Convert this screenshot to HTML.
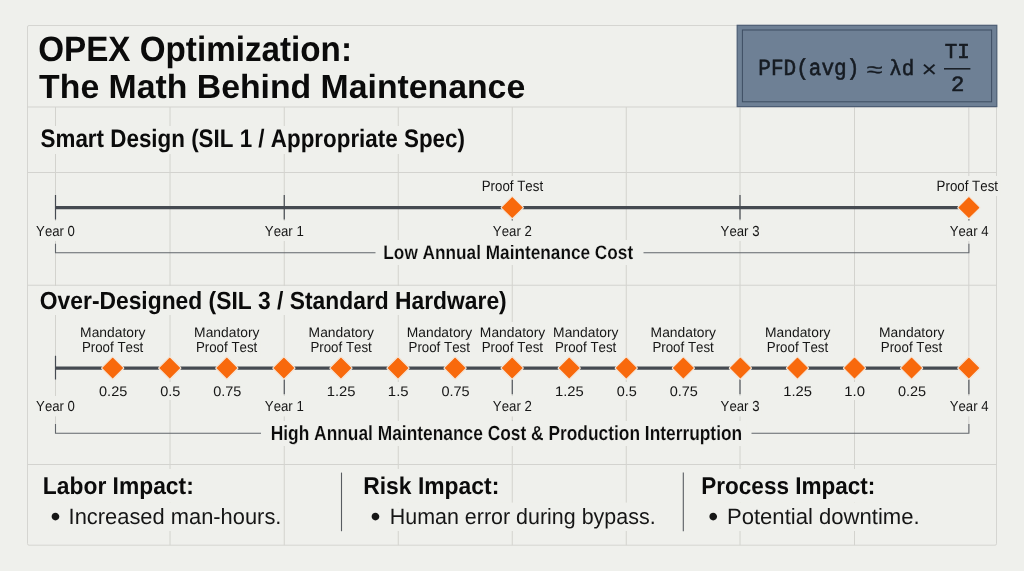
<!DOCTYPE html>
<html><head><meta charset="utf-8"><title>OPEX Optimization</title>
<style>
html,body{margin:0;padding:0;background:#eff0ec;}
body{width:1024px;height:571px;overflow:hidden;}
svg{display:block;font-kerning:none;text-rendering:geometricPrecision;filter:blur(0.35px);}
</style></head><body>
<svg width="1024" height="571" viewBox="0 0 1024 571">
<rect width="1024" height="571" fill="#eff0ec"/>
<rect x="27.5" y="25.5" width="969" height="519.25" fill="#eff0ec" stroke="none"/>
<line x1="55.5" y1="107" x2="55.5" y2="432.5" stroke="#cbcbc7" stroke-width="0.8"/>
<line x1="170" y1="107" x2="170" y2="545.2" stroke="#cbcbc7" stroke-width="0.8"/>
<line x1="284.25" y1="107" x2="284.25" y2="545.2" stroke="#cbcbc7" stroke-width="0.8"/>
<line x1="398.25" y1="107" x2="398.25" y2="545.2" stroke="#cbcbc7" stroke-width="0.8"/>
<line x1="512.25" y1="107" x2="512.25" y2="545.2" stroke="#cbcbc7" stroke-width="0.8"/>
<line x1="626.25" y1="107" x2="626.25" y2="545.2" stroke="#cbcbc7" stroke-width="0.8"/>
<line x1="740" y1="107" x2="740" y2="545.2" stroke="#cbcbc7" stroke-width="0.8"/>
<line x1="854.5" y1="107" x2="854.5" y2="545.2" stroke="#cbcbc7" stroke-width="0.8"/>
<line x1="968.8" y1="107" x2="968.8" y2="432.5" stroke="#cbcbc7" stroke-width="0.8"/>
<rect x="27.5" y="25.5" width="969" height="519.7" rx="1.5" fill="none" stroke="#d5d5d1" stroke-width="1"/>
<rect x="37.20" y="126.00" width="430.80" height="28.00" fill="#eff0ec"/>
<rect x="36.80" y="286.00" width="472.70" height="29.00" fill="#eff0ec"/>
<rect x="33.40" y="221.00" width="44.00" height="20.00" fill="#eff0ec"/>
<rect x="262.15" y="221.00" width="44.00" height="20.00" fill="#eff0ec"/>
<rect x="490.15" y="221.00" width="44.00" height="20.00" fill="#eff0ec"/>
<rect x="717.90" y="221.00" width="44.00" height="20.00" fill="#eff0ec"/>
<rect x="947.10" y="221.00" width="44.00" height="20.00" fill="#eff0ec"/>
<rect x="479.80" y="176.00" width="66.20" height="20.00" fill="#eff0ec"/>
<rect x="934.70" y="176.00" width="66.20" height="20.00" fill="#eff0ec"/>
<rect x="379.50" y="240.00" width="258.50" height="25.00" fill="#eff0ec"/>
<rect x="78.25" y="322.00" width="70.30" height="18.00" fill="#eff0ec"/>
<rect x="80.00" y="340.00" width="66.20" height="16.00" fill="#eff0ec"/>
<rect x="192.25" y="322.00" width="70.30" height="18.00" fill="#eff0ec"/>
<rect x="194.00" y="340.00" width="66.20" height="16.00" fill="#eff0ec"/>
<rect x="306.75" y="322.00" width="70.30" height="18.00" fill="#eff0ec"/>
<rect x="308.50" y="340.00" width="66.20" height="16.00" fill="#eff0ec"/>
<rect x="404.85" y="322.00" width="70.30" height="18.00" fill="#eff0ec"/>
<rect x="406.60" y="340.00" width="66.20" height="16.00" fill="#eff0ec"/>
<rect x="478.00" y="322.00" width="70.30" height="18.00" fill="#eff0ec"/>
<rect x="479.75" y="340.00" width="66.20" height="16.00" fill="#eff0ec"/>
<rect x="551.25" y="322.00" width="70.30" height="18.00" fill="#eff0ec"/>
<rect x="553.00" y="340.00" width="66.20" height="16.00" fill="#eff0ec"/>
<rect x="648.75" y="322.00" width="70.30" height="18.00" fill="#eff0ec"/>
<rect x="650.50" y="340.00" width="66.20" height="16.00" fill="#eff0ec"/>
<rect x="763.15" y="322.00" width="70.30" height="18.00" fill="#eff0ec"/>
<rect x="764.90" y="340.00" width="66.20" height="16.00" fill="#eff0ec"/>
<rect x="877.15" y="322.00" width="70.30" height="18.00" fill="#eff0ec"/>
<rect x="878.90" y="340.00" width="66.20" height="16.00" fill="#eff0ec"/>
<rect x="96.61" y="382.00" width="33.10" height="18.00" fill="#eff0ec"/>
<rect x="157.72" y="382.00" width="25.00" height="18.00" fill="#eff0ec"/>
<rect x="210.74" y="382.00" width="33.10" height="18.00" fill="#eff0ec"/>
<rect x="324.86" y="382.00" width="33.10" height="18.00" fill="#eff0ec"/>
<rect x="385.98" y="382.00" width="25.00" height="18.00" fill="#eff0ec"/>
<rect x="438.99" y="382.00" width="33.10" height="18.00" fill="#eff0ec"/>
<rect x="553.11" y="382.00" width="33.10" height="18.00" fill="#eff0ec"/>
<rect x="614.23" y="382.00" width="25.00" height="18.00" fill="#eff0ec"/>
<rect x="667.24" y="382.00" width="33.10" height="18.00" fill="#eff0ec"/>
<rect x="781.36" y="382.00" width="33.10" height="18.00" fill="#eff0ec"/>
<rect x="842.48" y="382.00" width="25.00" height="18.00" fill="#eff0ec"/>
<rect x="895.49" y="382.00" width="33.10" height="18.00" fill="#eff0ec"/>
<rect x="33.40" y="396.00" width="44.00" height="20.40" fill="#eff0ec"/>
<rect x="262.15" y="396.00" width="44.00" height="20.40" fill="#eff0ec"/>
<rect x="490.15" y="396.00" width="44.00" height="20.40" fill="#eff0ec"/>
<rect x="717.90" y="396.00" width="44.00" height="20.40" fill="#eff0ec"/>
<rect x="947.10" y="396.00" width="44.00" height="20.40" fill="#eff0ec"/>
<rect x="266.90" y="421.00" width="479.30" height="25.00" fill="#eff0ec"/>
<rect x="40.40" y="469.00" width="155.20" height="33.60" fill="#eff0ec"/>
<rect x="360.75" y="469.00" width="140.35" height="33.60" fill="#eff0ec"/>
<rect x="698.75" y="469.00" width="178.50" height="33.60" fill="#eff0ec"/>
<rect x="48.60" y="502.6" width="22.00" height="28.4" fill="#eff0ec"/>
<rect x="67.60" y="502.60" width="214.90" height="28.40" fill="#eff0ec"/>
<rect x="368.60" y="502.6" width="22.90" height="28.4" fill="#eff0ec"/>
<rect x="388.50" y="502.60" width="268.25" height="28.40" fill="#eff0ec"/>
<rect x="706.40" y="502.6" width="22.35" height="28.4" fill="#eff0ec"/>
<rect x="725.75" y="502.60" width="195.00" height="28.40" fill="#eff0ec"/>
<rect x="508.25" y="194" width="8" height="30" fill="#eff0ec"/>
<rect x="964.9" y="194" width="8" height="30" fill="#eff0ec"/>
<line x1="27.5" y1="107" x2="996.5" y2="107" stroke="#d3d3cf" stroke-width="1"/>
<line x1="27.5" y1="172.5" x2="996.5" y2="172.5" stroke="#d3d3cf" stroke-width="1"/>
<line x1="27.5" y1="285.25" x2="996.5" y2="285.25" stroke="#d3d3cf" stroke-width="1"/>
<line x1="27.5" y1="464.5" x2="996.5" y2="464.5" stroke="#d3d3cf" stroke-width="1"/>
<line x1="512.25" y1="218.6" x2="512.25" y2="220.6" stroke="#454a51" stroke-width="1.1"/>
<line x1="968.9" y1="218.6" x2="968.9" y2="220.6" stroke="#454a51" stroke-width="1.1"/>
<line x1="55.5" y1="207.6" x2="968.5" y2="207.6" stroke="#454a51" stroke-width="3.3"/>
<line x1="55.5" y1="195" x2="55.5" y2="219.5" stroke="#454a51" stroke-width="1.2"/>
<line x1="284.25" y1="195" x2="284.25" y2="219.5" stroke="#454a51" stroke-width="1.2"/>
<line x1="740" y1="195" x2="740" y2="219.5" stroke="#454a51" stroke-width="1.2"/>
<path d="M55.5 243.75 V252.7 H375.5 M643.5 252.7 H968.9 V243.75" fill="none" stroke="#62666b" stroke-width="1.1"/>
<path d="M55.5 424 V433.2 H261 M751.5 433.2 H968.9 V424" fill="none" stroke="#62666b" stroke-width="1.1"/>
<line x1="55.5" y1="368.05" x2="968.5" y2="368.05" stroke="#454a51" stroke-width="3.3"/>
<line x1="55.5" y1="355.75" x2="55.5" y2="379.5" stroke="#454a51" stroke-width="1.2"/>
<line x1="284.25" y1="379" x2="284.25" y2="394.3" stroke="#454a51" stroke-width="1.1"/>
<line x1="512.25" y1="379" x2="512.25" y2="394.3" stroke="#454a51" stroke-width="1.1"/>
<line x1="740" y1="379" x2="740" y2="394.3" stroke="#454a51" stroke-width="1.1"/>
<line x1="968.9" y1="379" x2="968.9" y2="394.3" stroke="#454a51" stroke-width="1.1"/>
<rect x="-8.06" y="-8.06" width="16.12" height="16.12" rx="1" transform="translate(512.25 207.6) rotate(45)" fill="#f8690c" stroke="#f4e6d9" stroke-width="1.2"/>
<rect x="-8.06" y="-8.06" width="16.12" height="16.12" rx="1" transform="translate(968.90 207.6) rotate(45)" fill="#f8690c" stroke="#f4e6d9" stroke-width="1.2"/>
<rect x="-8.06" y="-8.06" width="16.12" height="16.12" rx="1" transform="translate(112.71 368.05) rotate(45)" fill="#f8690c" stroke="#f4e6d9" stroke-width="1.2"/>
<rect x="-8.06" y="-8.06" width="16.12" height="16.12" rx="1" transform="translate(169.78 368.05) rotate(45)" fill="#f8690c" stroke="#f4e6d9" stroke-width="1.2"/>
<rect x="-8.06" y="-8.06" width="16.12" height="16.12" rx="1" transform="translate(226.84 368.05) rotate(45)" fill="#f8690c" stroke="#f4e6d9" stroke-width="1.2"/>
<rect x="-8.06" y="-8.06" width="16.12" height="16.12" rx="1" transform="translate(283.90 368.05) rotate(45)" fill="#f8690c" stroke="#f4e6d9" stroke-width="1.2"/>
<rect x="-8.06" y="-8.06" width="16.12" height="16.12" rx="1" transform="translate(340.96 368.05) rotate(45)" fill="#f8690c" stroke="#f4e6d9" stroke-width="1.2"/>
<rect x="-8.06" y="-8.06" width="16.12" height="16.12" rx="1" transform="translate(398.02 368.05) rotate(45)" fill="#f8690c" stroke="#f4e6d9" stroke-width="1.2"/>
<rect x="-8.06" y="-8.06" width="16.12" height="16.12" rx="1" transform="translate(455.09 368.05) rotate(45)" fill="#f8690c" stroke="#f4e6d9" stroke-width="1.2"/>
<rect x="-8.06" y="-8.06" width="16.12" height="16.12" rx="1" transform="translate(512.15 368.05) rotate(45)" fill="#f8690c" stroke="#f4e6d9" stroke-width="1.2"/>
<rect x="-8.06" y="-8.06" width="16.12" height="16.12" rx="1" transform="translate(569.21 368.05) rotate(45)" fill="#f8690c" stroke="#f4e6d9" stroke-width="1.2"/>
<rect x="-8.06" y="-8.06" width="16.12" height="16.12" rx="1" transform="translate(626.27 368.05) rotate(45)" fill="#f8690c" stroke="#f4e6d9" stroke-width="1.2"/>
<rect x="-8.06" y="-8.06" width="16.12" height="16.12" rx="1" transform="translate(683.34 368.05) rotate(45)" fill="#f8690c" stroke="#f4e6d9" stroke-width="1.2"/>
<rect x="-8.06" y="-8.06" width="16.12" height="16.12" rx="1" transform="translate(740.40 368.05) rotate(45)" fill="#f8690c" stroke="#f4e6d9" stroke-width="1.2"/>
<rect x="-8.06" y="-8.06" width="16.12" height="16.12" rx="1" transform="translate(797.46 368.05) rotate(45)" fill="#f8690c" stroke="#f4e6d9" stroke-width="1.2"/>
<rect x="-8.06" y="-8.06" width="16.12" height="16.12" rx="1" transform="translate(854.52 368.05) rotate(45)" fill="#f8690c" stroke="#f4e6d9" stroke-width="1.2"/>
<rect x="-8.06" y="-8.06" width="16.12" height="16.12" rx="1" transform="translate(911.59 368.05) rotate(45)" fill="#f8690c" stroke="#f4e6d9" stroke-width="1.2"/>
<rect x="-8.06" y="-8.06" width="16.12" height="16.12" rx="1" transform="translate(968.85 368.05) rotate(45)" fill="#f8690c" stroke="#f4e6d9" stroke-width="1.2"/>
<line x1="341.5" y1="472.6" x2="341.5" y2="531.2" stroke="#585c61" stroke-width="1.1"/>
<line x1="683.3" y1="472.6" x2="683.3" y2="531.2" stroke="#585c61" stroke-width="1.1"/>
<rect x="737.2" y="25.3" width="259.6" height="81.3" fill="#6e8095" stroke="#4c5d74" stroke-width="1.2"/>
<rect x="742.4" y="30" width="249.2" height="71.8" fill="none" stroke="#3d4d62" stroke-width="1"/>
<line x1="944" y1="68.8" x2="970.4" y2="68.8" stroke="#161b22" stroke-width="1.5"/>
<text transform="translate(38.14 60.50) scale(0.9447 1)" font-family='"Liberation Sans", Arial, sans-serif' font-size="35.18" font-weight="700" fill="#0b0b0b">OPEX Optimization:</text>
<text transform="translate(39.12 98.10) scale(1.0059 1)" font-family='"Liberation Sans", Arial, sans-serif' font-size="33.58" font-weight="700" fill="#0b0b0b">The Math Behind Maintenance</text>
<text transform="translate(40.55 147.40) scale(0.8859 1)" font-family='"Liberation Sans", Arial, sans-serif' font-size="25.29" font-weight="700" fill="#0b0b0b">Smart Design (SIL 1 / Appropriate Spec)</text>
<text transform="translate(39.86 308.70) scale(0.9183 1)" font-family='"Liberation Sans", Arial, sans-serif' font-size="24.86" font-weight="700" fill="#0b0b0b">Over-Designed (SIL 3 / Standard Hardware)</text>
<text transform="translate(36.11 236.00) scale(0.9061 1)" font-family='"Liberation Sans", Arial, sans-serif' font-size="14.54" font-weight="400" fill="#161616">Year 0</text>
<text transform="translate(264.86 236.00) scale(0.9092 1)" font-family='"Liberation Sans", Arial, sans-serif' font-size="14.54" font-weight="400" fill="#161616">Year 1</text>
<text transform="translate(492.86 236.00) scale(0.9097 1)" font-family='"Liberation Sans", Arial, sans-serif' font-size="14.54" font-weight="400" fill="#161616">Year 2</text>
<text transform="translate(720.61 236.00) scale(0.9076 1)" font-family='"Liberation Sans", Arial, sans-serif' font-size="14.54" font-weight="400" fill="#161616">Year 3</text>
<text transform="translate(949.81 236.00) scale(0.9031 1)" font-family='"Liberation Sans", Arial, sans-serif' font-size="14.54" font-weight="400" fill="#161616">Year 4</text>
<text transform="translate(481.71 190.70) scale(0.8889 1)" font-family='"Liberation Sans", Arial, sans-serif' font-size="14.97" font-weight="400" fill="#161616">Proof Test</text>
<text transform="translate(936.61 190.70) scale(0.8889 1)" font-family='"Liberation Sans", Arial, sans-serif' font-size="14.97" font-weight="400" fill="#161616">Proof Test</text>
<text transform="translate(383.35 259.40) scale(0.8847 1)" font-family='"Liberation Sans", Arial, sans-serif' font-size="19.48" font-weight="700" fill="#0b0b0b" stroke="#eff0ec" stroke-width="0.15">Low Annual Maintenance Cost</text>
<text transform="translate(80.11 337.00) scale(1.0034 1)" font-family='"Liberation Sans", Arial, sans-serif' font-size="13.81" font-weight="400" fill="#161616">Mandatory</text>
<text transform="translate(81.91 351.60) scale(0.9156 1)" font-family='"Liberation Sans", Arial, sans-serif' font-size="14.54" font-weight="400" fill="#161616">Proof Test</text>
<text transform="translate(194.11 337.00) scale(1.0034 1)" font-family='"Liberation Sans", Arial, sans-serif' font-size="13.81" font-weight="400" fill="#161616">Mandatory</text>
<text transform="translate(195.91 351.60) scale(0.9156 1)" font-family='"Liberation Sans", Arial, sans-serif' font-size="14.54" font-weight="400" fill="#161616">Proof Test</text>
<text transform="translate(308.61 337.00) scale(1.0034 1)" font-family='"Liberation Sans", Arial, sans-serif' font-size="13.81" font-weight="400" fill="#161616">Mandatory</text>
<text transform="translate(310.41 351.60) scale(0.9156 1)" font-family='"Liberation Sans", Arial, sans-serif' font-size="14.54" font-weight="400" fill="#161616">Proof Test</text>
<text transform="translate(406.71 337.00) scale(1.0034 1)" font-family='"Liberation Sans", Arial, sans-serif' font-size="13.81" font-weight="400" fill="#161616">Mandatory</text>
<text transform="translate(408.51 351.60) scale(0.9156 1)" font-family='"Liberation Sans", Arial, sans-serif' font-size="14.54" font-weight="400" fill="#161616">Proof Test</text>
<text transform="translate(479.86 337.00) scale(1.0034 1)" font-family='"Liberation Sans", Arial, sans-serif' font-size="13.81" font-weight="400" fill="#161616">Mandatory</text>
<text transform="translate(481.66 351.60) scale(0.9156 1)" font-family='"Liberation Sans", Arial, sans-serif' font-size="14.54" font-weight="400" fill="#161616">Proof Test</text>
<text transform="translate(553.11 337.00) scale(1.0034 1)" font-family='"Liberation Sans", Arial, sans-serif' font-size="13.81" font-weight="400" fill="#161616">Mandatory</text>
<text transform="translate(554.91 351.60) scale(0.9156 1)" font-family='"Liberation Sans", Arial, sans-serif' font-size="14.54" font-weight="400" fill="#161616">Proof Test</text>
<text transform="translate(650.61 337.00) scale(1.0034 1)" font-family='"Liberation Sans", Arial, sans-serif' font-size="13.81" font-weight="400" fill="#161616">Mandatory</text>
<text transform="translate(652.41 351.60) scale(0.9156 1)" font-family='"Liberation Sans", Arial, sans-serif' font-size="14.54" font-weight="400" fill="#161616">Proof Test</text>
<text transform="translate(765.01 337.00) scale(1.0034 1)" font-family='"Liberation Sans", Arial, sans-serif' font-size="13.81" font-weight="400" fill="#161616">Mandatory</text>
<text transform="translate(766.81 351.60) scale(0.9156 1)" font-family='"Liberation Sans", Arial, sans-serif' font-size="14.54" font-weight="400" fill="#161616">Proof Test</text>
<text transform="translate(879.01 337.00) scale(1.0034 1)" font-family='"Liberation Sans", Arial, sans-serif' font-size="13.81" font-weight="400" fill="#161616">Mandatory</text>
<text transform="translate(880.81 351.60) scale(0.9156 1)" font-family='"Liberation Sans", Arial, sans-serif' font-size="14.54" font-weight="400" fill="#161616">Proof Test</text>
<text transform="translate(99.04 395.75) scale(1.0522 1)" font-family='"Liberation Sans", Arial, sans-serif' font-size="13.81" font-weight="400" fill="#161616">0.25</text>
<text transform="translate(160.16 395.75) scale(1.0511 1)" font-family='"Liberation Sans", Arial, sans-serif' font-size="13.81" font-weight="400" fill="#161616">0.5</text>
<text transform="translate(213.17 395.75) scale(1.0522 1)" font-family='"Liberation Sans", Arial, sans-serif' font-size="13.81" font-weight="400" fill="#161616">0.75</text>
<text transform="translate(326.73 395.75) scale(1.0735 1)" font-family='"Liberation Sans", Arial, sans-serif' font-size="13.81" font-weight="400" fill="#161616">1.25</text>
<text transform="translate(387.84 395.75) scale(1.0818 1)" font-family='"Liberation Sans", Arial, sans-serif' font-size="13.81" font-weight="400" fill="#161616">1.5</text>
<text transform="translate(441.42 395.75) scale(1.0522 1)" font-family='"Liberation Sans", Arial, sans-serif' font-size="13.81" font-weight="400" fill="#161616">0.75</text>
<text transform="translate(554.98 395.75) scale(1.0735 1)" font-family='"Liberation Sans", Arial, sans-serif' font-size="13.81" font-weight="400" fill="#161616">1.25</text>
<text transform="translate(616.66 395.75) scale(1.0511 1)" font-family='"Liberation Sans", Arial, sans-serif' font-size="13.81" font-weight="400" fill="#161616">0.5</text>
<text transform="translate(669.67 395.75) scale(1.0522 1)" font-family='"Liberation Sans", Arial, sans-serif' font-size="13.81" font-weight="400" fill="#161616">0.75</text>
<text transform="translate(783.23 395.75) scale(1.0735 1)" font-family='"Liberation Sans", Arial, sans-serif' font-size="13.81" font-weight="400" fill="#161616">1.25</text>
<text transform="translate(844.34 395.75) scale(1.0793 1)" font-family='"Liberation Sans", Arial, sans-serif' font-size="13.81" font-weight="400" fill="#161616">1.0</text>
<text transform="translate(897.92 395.75) scale(1.0522 1)" font-family='"Liberation Sans", Arial, sans-serif' font-size="13.81" font-weight="400" fill="#161616">0.25</text>
<text transform="translate(36.11 410.60) scale(0.9061 1)" font-family='"Liberation Sans", Arial, sans-serif' font-size="14.54" font-weight="400" fill="#161616">Year 0</text>
<text transform="translate(264.86 410.60) scale(0.9092 1)" font-family='"Liberation Sans", Arial, sans-serif' font-size="14.54" font-weight="400" fill="#161616">Year 1</text>
<text transform="translate(492.86 410.60) scale(0.9097 1)" font-family='"Liberation Sans", Arial, sans-serif' font-size="14.54" font-weight="400" fill="#161616">Year 2</text>
<text transform="translate(720.61 410.60) scale(0.9076 1)" font-family='"Liberation Sans", Arial, sans-serif' font-size="14.54" font-weight="400" fill="#161616">Year 3</text>
<text transform="translate(949.81 410.60) scale(0.9031 1)" font-family='"Liberation Sans", Arial, sans-serif' font-size="14.54" font-weight="400" fill="#161616">Year 4</text>
<text transform="translate(270.74 439.90) scale(0.8530 1)" font-family='"Liberation Sans", Arial, sans-serif' font-size="20.35" font-weight="700" fill="#0b0b0b" stroke="#eff0ec" stroke-width="0.15">High Annual Maintenance Cost &amp; Production Interruption</text>
<text transform="translate(42.87 494.30) scale(0.9404 1)" font-family='"Liberation Sans", Arial, sans-serif' font-size="24.27" font-weight="700" fill="#0b0b0b">Labor Impact:</text>
<text transform="translate(363.22 494.30) scale(0.9428 1)" font-family='"Liberation Sans", Arial, sans-serif' font-size="24.27" font-weight="700" fill="#0b0b0b">Risk Impact:</text>
<text transform="translate(701.24 494.30) scale(0.9288 1)" font-family='"Liberation Sans", Arial, sans-serif' font-size="24.27" font-weight="700" fill="#0b0b0b">Process Impact:</text>
<text transform="translate(50.48 526.31) scale(1.0005 1)" font-family='"Liberation Sans", Arial, sans-serif' font-size="28.40" font-weight="400" fill="#161616">•</text>
<text transform="translate(68.58 523.75) scale(0.9875 1)" font-family='"Liberation Sans", Arial, sans-serif' font-size="22.17" font-weight="400" fill="#161616">Increased man-hours.</text>
<text transform="translate(370.48 526.31) scale(1.0005 1)" font-family='"Liberation Sans", Arial, sans-serif' font-size="28.40" font-weight="400" fill="#161616">•</text>
<text transform="translate(389.74 523.75) scale(0.9681 1)" font-family='"Liberation Sans", Arial, sans-serif' font-size="22.17" font-weight="400" fill="#161616">Human error during bypass.</text>
<text transform="translate(708.28 526.31) scale(1.0005 1)" font-family='"Liberation Sans", Arial, sans-serif' font-size="28.40" font-weight="400" fill="#161616">•</text>
<text transform="translate(726.94 523.75) scale(0.9968 1)" font-family='"Liberation Sans", Arial, sans-serif' font-size="22.17" font-weight="400" fill="#161616">Potential downtime.</text>
<text transform="translate(758.34 75.40) scale(0.9117 1)" font-family='"Liberation Mono", monospace' font-size="23.08" font-weight="400" fill="#161b22" stroke="#161b22" stroke-width="0.6">PFD(avg)</text>
<text transform="translate(865.64 77.30) scale(1.3430 1)" font-family='"Liberation Mono", monospace' font-size="22.00" font-weight="400" fill="#161b22" stroke="#161b22" stroke-width="0.1">≈</text>
<text transform="translate(889.14 75.40) scale(0.9550 1)" font-family='"Liberation Mono", monospace' font-size="21.90" font-weight="400" fill="#161b22" stroke="#161b22" stroke-width="0.55">λd</text>
<text transform="translate(921.25 76.80) scale(1.1407 1)" font-family='"Liberation Mono", monospace' font-size="23.40" font-weight="400" fill="#161b22" stroke="#161b22" stroke-width="0.1">×</text>
<text transform="translate(944.83 58.40) scale(0.9822 1)" font-family='"Liberation Mono", monospace' font-size="21.25" font-weight="400" fill="#161b22" stroke="#161b22" stroke-width="0.6">TI</text>
<text transform="translate(951.04 91.00) scale(1.0252 1)" font-family='"Liberation Mono", monospace' font-size="21.68" font-weight="400" fill="#161b22" stroke="#161b22" stroke-width="0.6">2</text>
</svg>
</body></html>
